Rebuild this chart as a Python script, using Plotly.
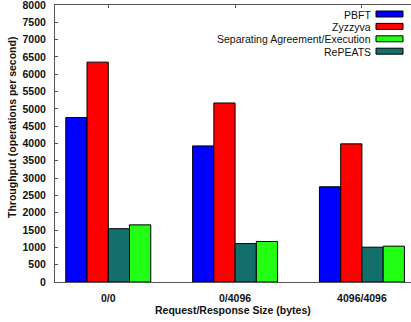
import plotly.graph_objects as go

categories = ["0/0", "0/4096", "4096/4096"]
pbft = [4750, 3930, 2750]
zyzzyva = [6350, 5170, 3990]
repeats = [1540, 1110, 1005]
separating = [1650, 1170, 1035]

series_plot_order = [
    ("PBFT", pbft, "#0000FF"),
    ("Zyzzyva", zyzzyva, "#FF0000"),
    ("RePEATS", repeats, "#136F6B"),
    ("Separating Agreement/Execution", separating, "#22FF14"),
]
legend_order = ["PBFT", "Zyzzyva", "Separating Agreement/Execution", "RePEATS"]
colors = {n: c for n, _, c in series_plot_order}

W, H = 411, 322
L, R, T, B = 55, 0, 5, 40
PW, PH = W - L - R, H - T - B
FONT = "Liberation Sans, Arial"

fig = go.Figure()
for name, vals, col in series_plot_order:
    fig.add_trace(go.Bar(
        x=categories, y=vals, name=name,
        marker=dict(color=col, line=dict(color="#000000", width=1)),
        showlegend=False,
    ))

def px2paper(x, y):
    return (x - L) / PW, (H - B - y) / PH

shapes = []
annotations = []
for i, name in enumerate(legend_order):
    cy = 14 + i * 12.4
    x0, y0 = px2paper(376, cy - 3)
    x1, y1 = px2paper(403, cy + 3)
    shapes.append(dict(type="rect", xref="paper", yref="paper",
                       x0=x0, x1=x1, y0=y1, y1=y0,
                       fillcolor=colors[name], line=dict(color="#000000", width=1)))
    tx, ty = px2paper(373, cy + 0.5)
    annotations.append(dict(xref="paper", yref="paper", x=tx, y=ty,
                            xanchor="right", yanchor="middle", showarrow=False,
                            text=name, font=dict(family=FONT, size=10.5, color="#111111")))

ax, ay = px2paper(12, 128)
annotations.append(dict(xref="paper", yref="paper", x=ax, y=ay, textangle=-90,
                        xanchor="center", yanchor="middle", showarrow=False,
                        text="<b>Throughput (operations per second)</b>",
                        font=dict(family=FONT, size=10.5, color="#111111")))
bx, by = px2paper(233, 310)
annotations.append(dict(xref="paper", yref="paper", x=bx, y=by,
                        xanchor="center", yanchor="middle", showarrow=False,
                        text="<b>Request/Response Size (bytes)</b>",
                        font=dict(family=FONT, size=10.5, color="#111111")))

fig.update_layout(
    width=W, height=H,
    margin=dict(l=L, r=R, t=T, b=B, pad=0),
    paper_bgcolor="white", plot_bgcolor="white",
    barmode="group", bargap=0.33, bargroupgap=0,
    font=dict(family=FONT, size=10, color="#111111"),
    shapes=shapes, annotations=annotations,
    xaxis=dict(
        range=[-0.42, 2.387], showline=True, linecolor="#555555", linewidth=1,
        mirror="ticks", ticks="inside", ticklen=3, tickcolor="#555555",
        showgrid=False, layer="below traces", ticklabelstandoff=6,
        tickfont=dict(family=FONT, size=10.5, color="#111111", weight="bold"),
    ),
    yaxis=dict(
        range=[0, 8000], dtick=500, showline=True, linecolor="#555555", linewidth=1,
        ticks="inside", ticklen=3, tickcolor="#555555", showgrid=False, zeroline=False,
        layer="below traces", ticklabelstandoff=6, ticklabeloverflow="allow",
        tickfont=dict(family=FONT, size=10.5, color="#111111", weight="bold"),
    ),
)

fig.write_html("out.html")
